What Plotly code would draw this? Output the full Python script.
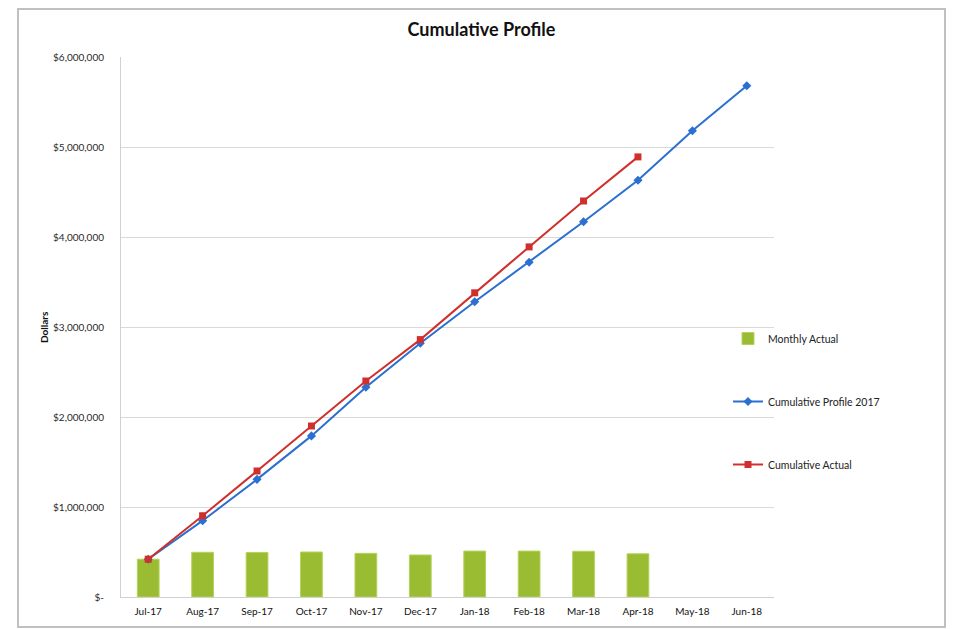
import plotly.graph_objects as go

months = ["Jul-17", "Aug-17", "Sep-17", "Oct-17", "Nov-17", "Dec-17",
          "Jan-18", "Feb-18", "Mar-18", "Apr-18", "May-18", "Jun-18"]
monthly_actual = [420000, 497000, 495000, 500000, 485000, 467000,
                  510000, 510000, 508000, 480000, None, None]
cumulative_profile = [420000, 848000, 1307000, 1790000, 2330000, 2820000,
                      3280000, 3720000, 4170000, 4630000, 5180000, 5680000]
cumulative_actual = [420000, 903000, 1400000, 1900000, 2400000, 2860000,
                     3380000, 3890000, 4400000, 4890000, None, None]
y_tickvals = [0, 1000000, 2000000, 3000000, 4000000, 5000000, 6000000]
y_ticktext = ["$-", "$1,000,000", "$2,000,000", "$3,000,000",
              "$4,000,000", "$5,000,000", "$6,000,000"]

# page has an 8px body margin; figure sized to fit the window
OFF = 8
W, H = 957 - OFF, 629 - OFF
ML, MT = 121 - OFF, 57 - OFF
PW, PH = 653, 540
MR, MB = W - ML - PW, H - MT - PH

def px_x(p):
    return (p - OFF - ML) / PW

def px_y(p):
    return (MT + PH - (p - OFF)) / PH

FONT = "Lato"

fig = go.Figure()
fig.add_trace(go.Bar(
    x=months, y=monthly_actual, name="Monthly Actual",
    marker=dict(color="#9abc32", line=dict(color="#b5d35a", width=1)),
    width=0.4, legendgroup="a"))
fig.add_trace(go.Scatter(
    x=months, y=cumulative_profile, name="Cumulative Profile 2017",
    mode="lines+markers", line=dict(color="#2b6fd1", width=2),
    marker=dict(symbol="diamond", size=7, color="#2b6fd1"), legendgroup="b"))
fig.add_trace(go.Scatter(
    x=months, y=cumulative_actual, name="Cumulative Actual",
    mode="lines+markers", line=dict(color="#d0302c", width=2),
    marker=dict(symbol="square", size=7, color="#d0302c"), legendgroup="c"))

fig.update_layout(
    width=W, height=H,
    margin=dict(l=ML, r=MR, t=MT, b=MB),
    paper_bgcolor="white", plot_bgcolor="white",
    font=dict(family=FONT, size=10, color="#222222"),
    title=dict(text="<b>Cumulative Profile</b>", x=(481.5 - OFF) / W, xanchor="center",
               y=1 - (30 - OFF) / H, yanchor="middle",
               font=dict(family=FONT, size=18, color="#111111")),
    xaxis=dict(type="category", range=[-0.5, len(months) - 0.5],
               showgrid=False, showline=True,
               linecolor="#d0d0d0", linewidth=1, ticks="", ticklabelstandoff=5,
               tickfont=dict(family=FONT, size=10, color="#111111")),
    yaxis=dict(range=[0, 6000000], tickvals=y_tickvals, ticktext=y_ticktext,
               showgrid=True, gridcolor="#d9d9d9", gridwidth=1,
               showline=True, linecolor="#d0d0d0", linewidth=1,
               zeroline=False, ticks="", ticklen=0, ticklabelstandoff=14,
               tickfont=dict(family=FONT, size=10, color="#2a2a2a")),
    legend=dict(x=px_x(728), y=px_y(324), xanchor="left", yanchor="top",
                bgcolor="rgba(0,0,0,0)", traceorder="grouped",
                tracegroupgap=44, font=dict(family=FONT, size=10.5, color="#222222"),
                itemwidth=30),
    annotations=[dict(text="<b>Dollars</b>", textangle=-90, xref="paper", yref="paper",
                      x=px_x(44), y=px_y(327), xanchor="center", yanchor="middle",
                      showarrow=False,
                      font=dict(family=FONT, size=10, color="#111111"))],
    shapes=[dict(type="rect", xref="paper", yref="paper",
                 x0=px_x(18), x1=px_x(945), y0=px_y(627), y1=px_y(9),
                 line=dict(color="#c0c0c0", width=2), layer="below")],
)

fig.write_html("out.html")
